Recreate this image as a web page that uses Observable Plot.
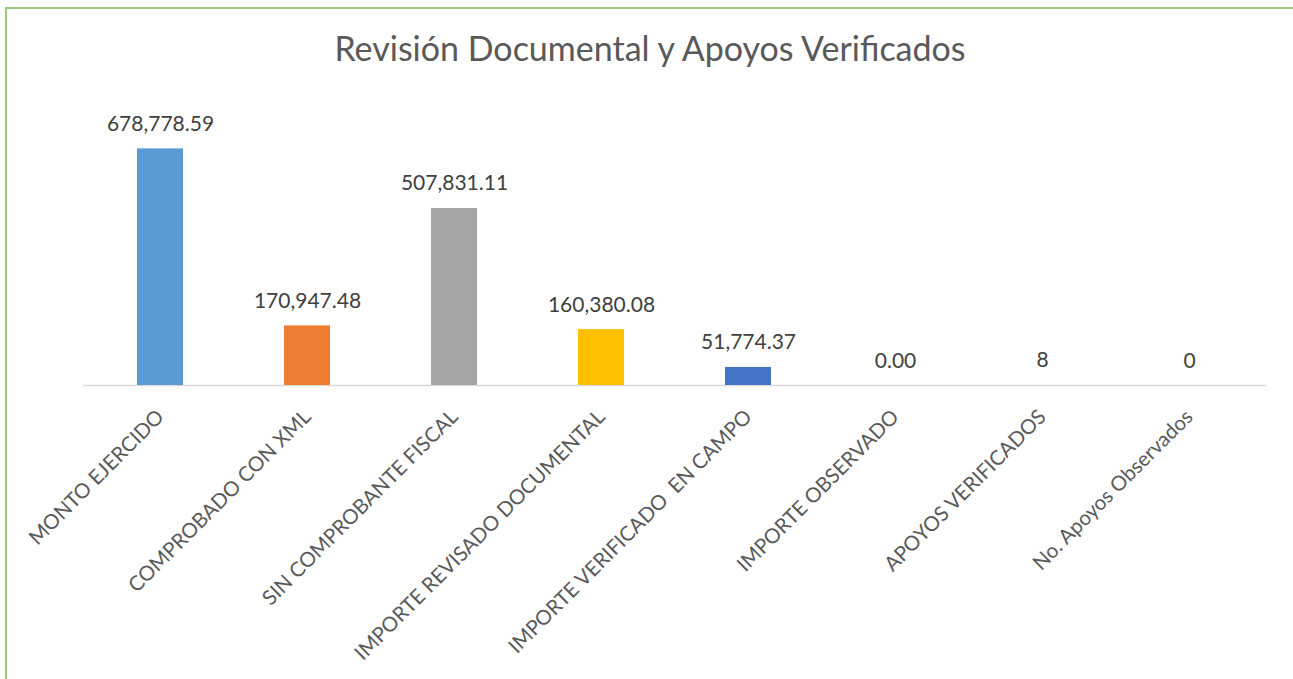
<!DOCTYPE html>
<html>
<head>
<meta charset="utf-8">
<script src="https://cdn.jsdelivr.net/npm/d3@7"></script>
<script src="https://cdn.jsdelivr.net/npm/@observablehq/plot@0.6"></script>
<style>
  html, body { margin: 0; padding: 0; background: #fff; }
  #wrap { position: relative; width: 1293px; height: 679px; overflow: hidden; }
  #border { position: absolute; left: 5px; top: 7px; width: 1400px; height: 800px;
            border-left: 2px solid #9cc97f; border-top: 2px solid #9cc97f; }
  #title { position: absolute; left: 0; top: 28px; width: 1300px; text-align: center; line-height: 1.2;
           font-family: Lato, "Open Sans", sans-serif; font-size: 34px; color: #595959; }
  svg { position: absolute; left: 0; top: 0; white-space: pre; }
</style>
</head>
<body>
<div id="wrap">
  <div id="border"></div>
  <div id="title">Revisión Documental y Apoyos Verificados</div>
</div>
<script>
const categories = [
  "MONTO EJERCIDO",
  "COMPROBADO CON XML",
  "SIN COMPROBANTE FISCAL",
  "IMPORTE REVISADO DOCUMENTAL",
  "IMPORTE VERIFICADO  EN CAMPO",
  "IMPORTE OBSERVADO",
  "APOYOS VERIFICADOS",
  "No. Apoyos Observados"
];
const values = [678778.59, 170947.48, 507831.11, 160380.08, 51774.37, 0, 8, 0];
const decimals = [2, 2, 2, 2, 2, 2, 0, 0];
const colors = ["#5B9BD5", "#ED7D31", "#A5A5A5", "#FFC000", "#4472C4", "#70AD47", "#264478", "#9E480E"];

const data = categories.map((c, i) => ({
  category: c,
  value: values[i],
  label: d3.format(`,.${decimals[i]}f`)(values[i]),
  color: colors[i]
}));

const chart = Plot.plot({
  width: 1293,
  height: 679,
  marginLeft: 83,
  marginRight: 27,
  marginTop: 141,
  marginBottom: 294,
  style: { background: "transparent", fontFamily: "Lato, 'Open Sans', sans-serif" },
  x: { domain: categories, paddingInner: 0.69, paddingOuter: 0.345, axis: null },
  y: { domain: [0, 700000], axis: null },
  marks: [
    Plot.ruleY([0], { stroke: "#d9d9d9", strokeWidth: 1.5 }),
    Plot.barY(data, { x: "category", y: "value", fill: "color" }),
    Plot.text(data, {
      x: "category", y: "value", text: "label",
      lineAnchor: "bottom", dy: -18,
      fontSize: 21, fill: "#404040"
    }),
    Plot.text(data, {
      x: "category", text: "category", frameAnchor: "bottom",
      dy: 28, rotate: -45, textAnchor: "end", lineAnchor: "middle",
      fontSize: 20.5, fill: "#595959"
    })
  ]
});
document.getElementById("wrap").appendChild(chart);
</script>
</body>
</html>
